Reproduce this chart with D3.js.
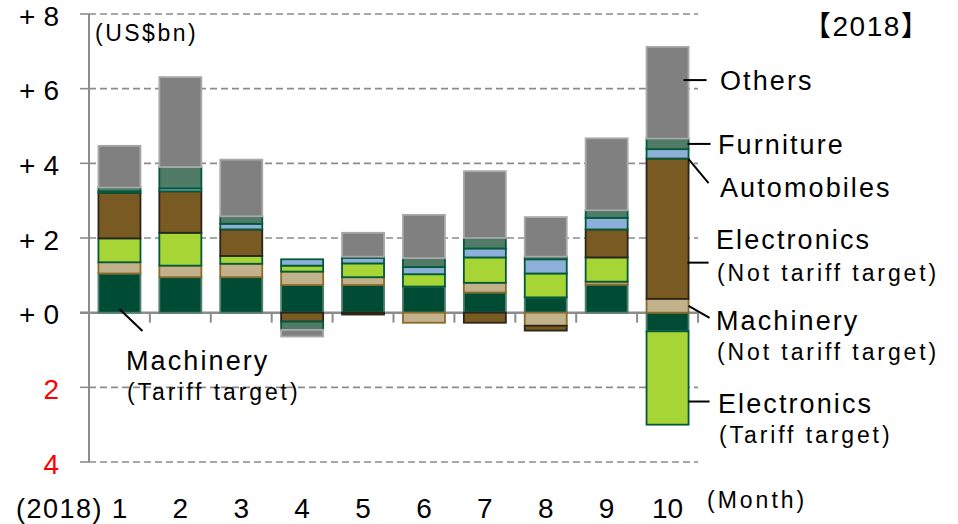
<!DOCTYPE html>
<html><head><meta charset="utf-8">
<script src="https://cdn.jsdelivr.net/npm/d3@7"></script>
<style>
body{margin:0;background:#fff}
svg{display:block}
text{font-family:"Liberation Sans",Arial,"Noto Sans CJK JP",sans-serif;fill:#000}
</style>
</head><body>
<svg id="chart" width="958" height="524"></svg>
<script>
// ---- data (US$bn, change by month, 2018) ----
const months = ["1","2","3","4","5","6","7","8","9","10"];
const yTickValues = [8,6,4,2,0,-2,-4];
const yTickLabels = ["+8","+6","+4","+2","+0","2","4"];

const machineryTariff    = [1.05, 0.95, 0.95, 0.74, 0.74, 0.70, 0.54, 0.41, 0.75, -0.50];
const machineryNonTariff = [0.30, 0.31, 0.36, 0.36, 0.21, -0.27, 0.26, -0.35, 0.08, 0.37];
const electronicsTariff  = [0.64, 0.88, 0.21, 0.16, 0.37, 0.33, 0.68, 0.64, 0.65, -2.50];
const electronicsNonTariff = [1.22, 1.11, 0.71, -0.24, -0.05, 0.00, -0.27, -0.13, 0.75, 3.76];
const automobiles        = [0.04, 0.08, 0.15, 0.17, 0.15, 0.19, 0.24, 0.38, 0.31, 0.25];
const furniture          = [0.10, 0.57, 0.20, -0.22, 0.03, 0.24, 0.28, 0.07, 0.20, 0.28];
const others             = [1.12, 2.41, 1.52, -0.18, 0.64, 1.16, 1.79, 1.06, 1.93, 2.46];

const seriesKeys = ["machTT","machNTT","elecTT","elecNTT","auto","furn","others"];
const seriesValues = [machineryTariff, machineryNonTariff, electronicsTariff, electronicsNonTariff, automobiles, furniture, others];

// ---- styles ----
const fills   = {machTT:"#004B33", machNTT:"#C2B28C", elecTT:"#A8D536", elecNTT:"#7A5A23", auto:"#8DB0DA", furn:"#4F7B67", others:"#808080"};
const strokes = {machTT:"#4f7f6d", machNTT:"#8B6A2A", elecTT:"#035A3A", elecNTT:"#2B2418", auto:"#035A3A", furn:"#035A3A", others:"#a9a9a9"};

const table = months.map((m,i)=>{
  const row = {month:m};
  seriesKeys.forEach((k,j)=>row[k]=seriesValues[j][i]);
  return row;
});

const svg = d3.select("#chart");
const W = 958, H = 524;
svg.append("rect").attr("width",W).attr("height",H).attr("fill","#fff");

const x = d3.scaleBand().domain(months).range([89,698]).paddingInner(0.31).paddingOuter(0.155);
const y = d3.scaleLinear().domain([-4,8]).range([462,14]);
const gridColor = "#8c8c8c";

// gridlines
svg.append("g").selectAll("line").data(yTickValues.filter(v=>v!==0)).join("line")
  .attr("x1",89).attr("x2",698).attr("y1",d=>y(d)).attr("y2",d=>y(d))
  .attr("stroke",gridColor).attr("stroke-width",1.6).attr("stroke-dasharray","7,4");
// y ticks (left)
svg.append("g").selectAll("line").data(yTickValues).join("line")
  .attr("x1",80).attr("x2",89).attr("y1",d=>y(d)).attr("y2",d=>y(d))
  .attr("stroke",gridColor).attr("stroke-width",1.6);
// y axis line
svg.append("line").attr("x1",89).attr("x2",89).attr("y1",y(8)).attr("y2",y(-4))
  .attr("stroke",gridColor).attr("stroke-width",2);
// zero line
svg.append("line").attr("x1",80).attr("x2",698).attr("y1",y(0)).attr("y2",y(0))
  .attr("stroke",gridColor).attr("stroke-width",2.5);
// category ticks
const bounds = months.map((m,i)=>x.range()[0] + x.step()*(i+1));
svg.append("g").selectAll("line").data(bounds).join("line")
  .attr("x1",d=>d).attr("x2",d=>d).attr("y1",y(0)).attr("y2",y(0)+10)
  .attr("stroke",gridColor).attr("stroke-width",2);

// bars
const stack = d3.stack().keys(seriesKeys).offset(d3.stackOffsetDiverging)(table);
const layer = svg.append("g").selectAll("g").data(stack).join("g")
  .attr("fill",d=>fills[d.key]).attr("stroke",d=>strokes[d.key]).attr("stroke-width",1.8);
layer.selectAll("rect").data(d=>d.filter(s=>Math.abs(s[1]-s[0])>1e-9)).join("rect")
  .attr("x",d=>x(d.data.month)).attr("width",x.bandwidth())
  .attr("y",d=>y(Math.max(d[0],d[1]))).attr("height",d=>Math.abs(y(d[0])-y(d[1])));

// y tick labels
const yl = svg.append("g");
yTickValues.forEach((v,i)=>{
  const lab = yTickLabels[i];
  const neg = !lab.startsWith("+");
  const num = neg ? lab : lab.slice(1);
  if(!neg) yl.append("text").attr("x",19).attr("y",y(v)+11.5).attr("font-size",28).text("+");
  yl.append("text").attr("x",59).attr("y",y(v)+11.5).attr("text-anchor","end").attr("font-size",28)
    .style("fill",neg?"#FF0000":"#000").text(num);
});

// x tick labels
svg.append("g").selectAll("text").data(months).join("text")
  .attr("x",d=>x(d)+x.bandwidth()/2).attr("y",518).attr("text-anchor","middle").attr("font-size",28).text(d=>d);
svg.append("text").attr("x",16).attr("y",518).attr("font-size",27).attr("letter-spacing",1.5).text("(2018)");
svg.append("text").attr("x",707).attr("y",508).attr("font-size",23).attr("letter-spacing",3).text("(Month)");
svg.append("text").attr("x",95).attr("y",41).attr("font-size",23).attr("letter-spacing",2.5).text("(US$bn)");
svg.append("text").attr("x",803).attr("y",36).attr("font-size",28).attr("letter-spacing",1.5).text("【2018】");

// annotations
const last = months[months.length-1], first = months[0];
const bx = x(last), bw = x.bandwidth();
const anns = [
  {x1:bx+bw*0.88, v1:6.23, x2:bx+bw+18, v2:6.23, tx:720, lines:["Others"], base:[90]},
  {x1:bx+bw-1, v1:4.52, x2:bx+bw+22, v2:4.52, tx:718, lines:["Furniture"], base:[154]},
  {x1:bx+bw, v1:4.11, x2:bx+bw+20, v2:3.47, tx:720, lines:["Automobiles"], base:[197]},
  {x1:bx+bw-1, v1:1.34, x2:bx+bw+20, v2:1.34, tx:716, lines:["Electronics","(Not tariff target)"], base:[249,281]},
  {x1:bx+bw, v1:0.18, x2:bx+bw+21, v2:-0.14, tx:716, lines:["Machinery","(Not tariff target)"], base:[330,360]},
  {x1:bx+bw, v1:-2.38, x2:bx+bw+21, v2:-2.38, tx:718, lines:["Electronics","(Tariff target)"], base:[413,443]},
  {x1:x(first)+bw/2, v1:0.10, x2:x(first)+bw/2+23, v2:-0.49, tx:126, lines:["Machinery","(Tariff target)"], base:[370,400]}
];
const ag = svg.append("g");
anns.forEach(a=>{
  ag.append("line").attr("x1",a.x1).attr("x2",a.x2).attr("y1",y(a.v1)).attr("y2",y(a.v2))
    .attr("stroke","#000").attr("stroke-width",2);
  a.lines.forEach((t,i)=>{
    const sub = i>0;
    ag.append("text").attr("x",a.tx+(sub?1:0)).attr("y",a.base[i])
      .attr("font-size",sub?23:27).attr("letter-spacing",sub?2.9:2.1).text(t);
  });
});
</script>
</body></html>
